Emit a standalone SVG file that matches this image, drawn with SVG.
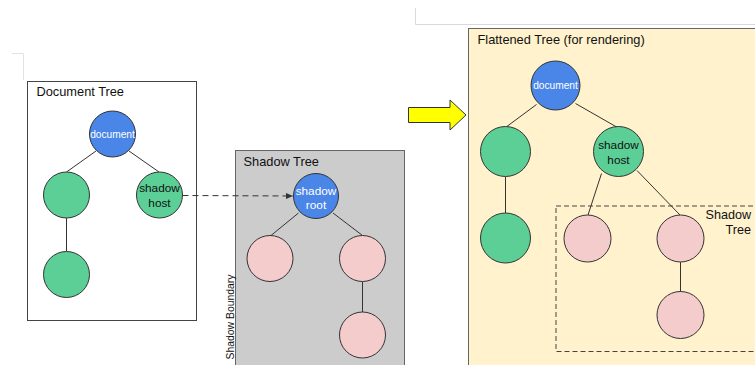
<svg xmlns="http://www.w3.org/2000/svg" width="755" height="365" viewBox="0 0 755 365">
<style>
text{font-family:"Liberation Sans",Arial,sans-serif;}
.title{font-size:12.8px;fill:#111;}
.blue{fill:#4a86e8;stroke:#333;stroke-width:1;}
.green{fill:#5bcf95;stroke:#333;stroke-width:1;}
.pink{fill:#f4cccc;stroke:#333;stroke-width:1;}
.edge{stroke:#333;stroke-width:1;fill:none;}
.wl{font-size:10.2px;fill:#fff;text-anchor:middle;}
.nl{font-size:11.8px;fill:#111;text-anchor:middle;}
.wn{font-size:11.8px;fill:#fff;text-anchor:middle;}
</style>
<defs>
<marker id="ah" markerWidth="8" markerHeight="8" refX="7" refY="4" orient="auto" markerUnits="userSpaceOnUse">
<path d="M0,1 L7,4 L0,7 Z" fill="#333"/>
</marker>
</defs>
<rect width="755" height="365" fill="#fff"/>
<!-- faint lines -->
<path d="M415.5,8 V24.5 H755" fill="none" stroke="#d9d9d9" stroke-width="1"/>
<path d="M12,53.5 H23.5 V80" fill="none" stroke="#e3e3e3" stroke-width="1"/>

<!-- containers -->
<g id="document-tree">
<rect x="27.5" y="81.5" width="169" height="239" fill="#fff" stroke="#444" stroke-width="1"/>
<text class="title" x="36.5" y="96">Document Tree</text>
</g>
<g id="shadow-tree">
<rect x="235.5" y="150.5" width="169" height="220" fill="#cccccc" stroke="#666" stroke-width="1"/>
<text class="title" x="243.5" y="166">Shadow Tree</text>
<text x="234" y="317" font-size="10.4" fill="#111" text-anchor="middle" transform="rotate(-90 234 317)">Shadow Boundary</text>
</g>
<g id="flattened-tree">
<rect x="468.5" y="28.5" width="300" height="350" fill="#fff2cc" stroke="#666" stroke-width="1"/>
<text class="title" x="477.5" y="43.5">Flattened Tree (for rendering)</text>
</g>
<g id="flat-shadow-tree">
<rect x="556" y="206" width="210" height="145.5" fill="none" stroke="#444" stroke-width="1" stroke-dasharray="5,3"/>
<text x="751" y="218.5" font-size="12.6" fill="#111" text-anchor="end">Shadow</text>
<text x="751" y="234" font-size="12.6" fill="#111" text-anchor="end">Tree</text>
</g>

<!-- connectors -->
<g id="connectors">
<line class="edge" x1="96" y1="151" x2="66.5" y2="172"/>
<line class="edge" x1="129" y1="151" x2="159" y2="172"/>
<line class="edge" x1="66.5" y1="218" x2="66.5" y2="251"/>
<line class="edge" x1="298.5" y1="213" x2="271" y2="235.5"/>
<line class="edge" x1="333" y1="213" x2="362.5" y2="235.5"/>
<line class="edge" x1="362.5" y1="281.5" x2="362.5" y2="312"/>
<line class="edge" x1="536.5" y1="104.5" x2="505.5" y2="127.5"/>
<line class="edge" x1="575.5" y1="103.5" x2="617.5" y2="127.5"/>
<line class="edge" x1="505.5" y1="177" x2="505.5" y2="213"/>
<line class="edge" x1="601.5" y1="173.5" x2="588" y2="215"/>
<line class="edge" x1="637" y1="170.5" x2="680" y2="215"/>
<line class="edge" x1="680.5" y1="262" x2="680.5" y2="292"/>
<line x1="182.5" y1="195.5" x2="293" y2="196" stroke="#333" stroke-width="1" stroke-dasharray="6,4" marker-end="url(#ah)"/>
<polygon points="408.5,107.5 450,107.5 450,100 466,115 450,130 450,122.5 408.5,122.5" fill="#ffff00" stroke="#333" stroke-width="1"/>
</g>

<!-- nodes: document tree -->
<g id="doc-document"><circle class="blue" cx="112.5" cy="134" r="23"/><text class="wl" x="112.5" y="137.5">document</text></g>
<g id="doc-child-left"><circle class="green" cx="66.5" cy="195" r="23"/></g>
<g id="doc-shadow-host"><circle class="green" cx="159.5" cy="195" r="23"/><text class="nl" x="159.5" y="192">shadow</text><text class="nl" x="159.5" y="206.5">host</text></g>
<g id="doc-grandchild"><circle class="green" cx="66.5" cy="274.5" r="23"/></g>

<!-- nodes: shadow tree -->
<g id="sh-root"><circle class="blue" cx="316" cy="196" r="22.5"/><text class="wn" x="316" y="195">shadow</text><text class="wn" x="316" y="209">root</text></g>
<g id="sh-left"><circle class="pink" cx="270" cy="258.5" r="23"/></g>
<g id="sh-right"><circle class="pink" cx="362.5" cy="258.5" r="23"/></g>
<g id="sh-bottom"><circle class="pink" cx="362.5" cy="335" r="23"/></g>

<!-- nodes: flattened tree -->
<g id="fl-document"><circle class="blue" cx="555.5" cy="85.5" r="24.5"/><text class="wl" x="555.5" y="89" font-size="10.8">document</text></g>
<g id="fl-left"><circle class="green" cx="505.5" cy="151.5" r="25"/></g>
<g id="fl-shadow-host"><circle class="green" cx="618.5" cy="151.5" r="25"/><text class="nl" x="618.5" y="149" font-size="12.4">shadow</text><text class="nl" x="618.5" y="164" font-size="12.4">host</text></g>
<g id="fl-grandchild"><circle class="green" cx="505.5" cy="238" r="25"/></g>
<g id="fl-sh-left"><circle class="pink" cx="587.5" cy="238.5" r="23.5"/></g>
<g id="fl-sh-right"><circle class="pink" cx="680.5" cy="238.5" r="23.5"/></g>
<g id="fl-sh-bottom"><circle class="pink" cx="680.5" cy="315" r="23.5"/></g>
</svg>
